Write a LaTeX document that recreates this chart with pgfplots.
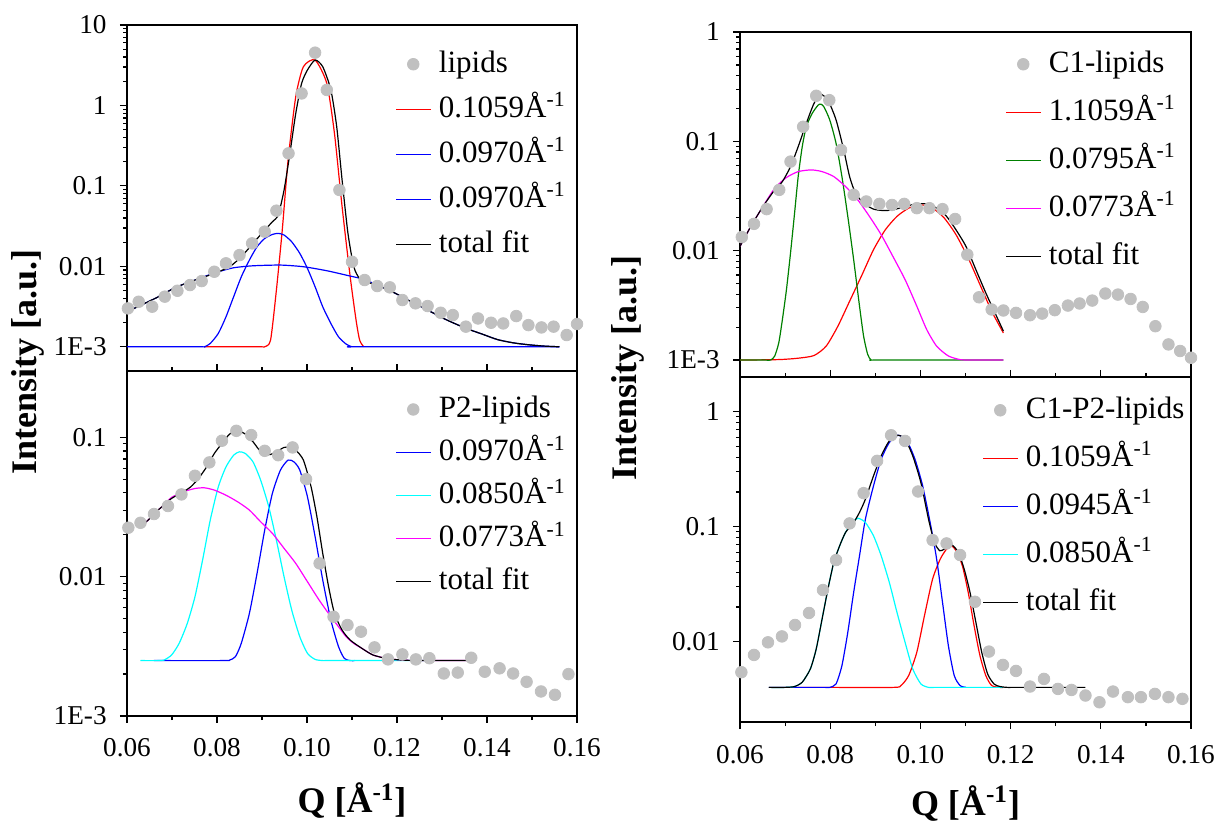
\documentclass[border=0pt]{standalone}
\usepackage{fontspec}
\setmainfont{Liberation Serif}
\usepackage{pgfplots}
\pgfplotsset{compat=1.18}
\definecolor{ptgray}{RGB}{192,192,192}
\definecolor{fitgreen}{RGB}{0,128,0}
\definecolor{fitred}{RGB}{255,0,0}
\definecolor{fitblue}{RGB}{0,0,255}
\definecolor{fitcyan}{RGB}{0,255,255}
\definecolor{fitmag}{RGB}{255,0,255}
\pgfplotsset{
  every axis/.append style={
    scale only axis,
    xmin=0.06, xmax=0.16,
    tick align=outside,
    ytick pos=left,
    axis line style={line width=0.6pt},
    major tick length=3.5pt, minor tick length=2pt,
    tick style={black, line width=0.6pt},
    tick label style={font=\fontsize{13.6}{15}\selectfont},
    yticklabel style={anchor=east, inner sep=0pt, xshift=-6.5pt},
    xticklabel style={anchor=base, inner sep=0pt, yshift=-17pt},
    legend cell align=left,
    legend style={draw=none, fill=none, inner sep=0pt,
      font=\fontsize{15.5}{17}\selectfont,
      nodes={text height=12pt, text depth=4pt, inner sep=0pt},
      anchor=north west, column sep=4pt},
    ylabel style={font=\fontsize{18}{20}\selectfont\bfseries, anchor=center},
    xlabel style={font=\fontsize{18}{20}\selectfont\bfseries, anchor=base},
  },
  datapts/.style={only marks, mark=*, mark size=2.9pt, color=ptgray,
    mark options={fill=ptgray, draw=ptgray}},
  fitline/.style={smooth, tension=0.4, line width=0.6pt, mark=none},
}
\begin{document}
\begin{tikzpicture}
\useasboundingbox (0pt,0pt) rectangle (610pt,-411.5pt);
% ---------------- left top: lipids
\begin{axis}[ymode=log, xtick=\empty, at={(63.5pt,-185.5pt)}, anchor=south west,
  width=225pt, height=173pt, ymin=5e-4, ymax=10,
  ytick={1e-3,1e-2,1e-1,1,10}, yticklabels={1E-3,0.01,0.1,1,10},
  legend style={at={(axis description cs:0.596,0.934)}, row sep=6.5pt}]
\addplot[datapts] coordinates {(0.0602,0.0030)(0.0626,0.00363)(0.0656,0.00315)(0.0684,0.0042)(0.0712,0.00497)(0.0740,0.00585)(0.0766,0.00656)(0.0794,0.00857)(0.0820,0.0109)(0.0850,0.0138)(0.0878,0.0193)(0.0906,0.027)(0.0932,0.0492)(0.0959,0.254)(0.0988,1.41)(0.1018,4.53)(0.1044,1.56)(0.1072,0.089)(0.1100,0.0114)(0.1128,0.00676)(0.1156,0.00569)(0.1184,0.00548)(0.1212,0.00381)(0.1241,0.00347)(0.1268,0.00321)(0.1297,0.00265)(0.1324,0.00248)(0.1353,0.00178)(0.1380,0.00225)(0.1409,0.00199)(0.1436,0.00195)(0.1465,0.00241)(0.1492,0.00186)(0.1521,0.00174)(0.1548,0.00178)(0.1577,0.0014)(0.1600,0.00192)};
\addlegendentry{lipids}
\addplot[fitline, fitred] coordinates {(0.0772,0.001)(0.0895,0.001)(0.0906,0.001)(0.0919,0.00121)(0.0932,0.00507)(0.0945,0.0282)(0.0958,0.2095)(0.0975,1.285)(0.0992,3.03)(0.1018,3.67)(0.1044,1.88)(0.1061,0.450)(0.1078,0.0551)(0.1096,0.00741)(0.1109,0.00215)(0.1117,0.00121)(0.1126,0.001)};
\addlegendentry{0.1059Å\textsuperscript{-1}}
\addplot[fitline, fitblue] coordinates {(0.0600,0.001)(0.0760,0.001)(0.0772,0.001)(0.0785,0.0011)(0.0803,0.00147)(0.0820,0.00236)(0.0837,0.00419)(0.0854,0.00741)(0.0872,0.01197)(0.0889,0.01754)(0.0906,0.0222)(0.0923,0.0249)(0.0936,0.0257)(0.0949,0.0245)(0.0966,0.0202)(0.0984,0.0145)(0.1001,0.00942)(0.1018,0.00557)(0.1035,0.00314)(0.1053,0.00195)(0.1070,0.00133)(0.1087,0.00108)(0.1100,0.001)(0.1115,0.001)(0.1561,0.001)};
\addlegendentry{0.0970Å\textsuperscript{-1}}
\addplot[fitline, fitblue] coordinates {(0.0600,0.00272)(0.0665,0.00406)(0.0708,0.00547)(0.0751,0.00675)(0.0785,0.00794)(0.0803,0.00857)(0.0837,0.00960)(0.0880,0.01016)(0.0941,0.01037)(0.0992,0.00989)(0.1044,0.00882)(0.1096,0.00757)(0.1126,0.00688)(0.1182,0.00507)(0.1225,0.00380)(0.1268,0.00286)(0.1311,0.00215)(0.1354,0.00169)(0.1389,0.00144)(0.1423,0.00123)(0.1458,0.00112)(0.1492,0.00106)(0.1527,0.00102)(0.1561,0.001)};
\addlegendentry{0.0970Å\textsuperscript{-1}}
\addplot[fitline, black] coordinates {(0.0600,0.00272)(0.0665,0.00406)(0.0708,0.00547)(0.0751,0.00675)(0.0794,0.00816)(0.0828,0.00989)(0.0854,0.01316)(0.0880,0.0193)(0.0906,0.0282)(0.0923,0.0358)(0.0936,0.0434)(0.0949,0.0887)(0.0962,0.2535)(0.0975,0.797)(0.0988,1.88)(0.1001,2.76)(0.1018,3.67)(0.1035,3.03)(0.1053,1.56)(0.1066,0.545)(0.1078,0.118)(0.1091,0.0257)(0.1104,0.00989)(0.1117,0.00707)(0.1139,0.00625)(0.1182,0.00507)(0.1225,0.00380)(0.1268,0.00286)(0.1311,0.00215)(0.1354,0.00169)(0.1389,0.00144)(0.1423,0.00123)(0.1458,0.00112)(0.1492,0.00106)(0.1527,0.00102)(0.1561,0.001)};
\addlegendentry{total fit}
\end{axis}
% ---------------- left bottom: P2-lipids
\begin{axis}[ymode=log, at={(63.5pt,-358pt)}, anchor=south west,
  xtick={0.06,0.08,0.10,0.12,0.14,0.16},
  minor xtick={0.07,0.09,0.11,0.13,0.15},
  xtick pos=both, xticklabel pos=bottom,
  xticklabels={0.06,0.08,0.10,0.12,0.14,0.16},
  xlabel={Q [Å\textsuperscript{-1}]},
  width=225pt, height=172.5pt, ymin=1e-3, ymax=0.3,
  ytick={1e-3,1e-2,1e-1}, yticklabels={1E-3,0.01,0.1},
  ylabel={Intensity [a.u.]},
  ylabel style={at={(axis description cs:-0.22,1.026)}},
  xlabel style={at={(axis description cs:0.5,-0.281)}},
  legend style={at={(axis description cs:0.596,0.936)}, row sep=5.5pt}]
\addplot[datapts] coordinates {(0.0603,0.0225)(0.0630,0.0244)(0.0660,0.0282)(0.0691,0.0322)(0.0721,0.039)(0.0751,0.0531)(0.0783,0.0662)(0.0811,0.0947)(0.0843,0.1116)(0.0876,0.104)(0.0906,0.0802)(0.0936,0.0746)(0.0968,0.0848)(0.0998,0.0502)(0.1028,0.01247)(0.1059,0.00516)(0.1090,0.0045)(0.1120,0.00403)(0.1150,0.00311)(0.1180,0.00255)(0.1212,0.00277)(0.1242,0.00255)(0.1272,0.0026)(0.1304,0.00202)(0.1335,0.00205)(0.1365,0.00262)(0.1395,0.00208)(0.1428,0.0022)(0.1458,0.00202)(0.1488,0.00176)(0.1520,0.0015)(0.1551,0.00142)(0.1581,0.0020)};
\addlegendentry{P2-lipids}
\addplot[fitline, fitblue] coordinates {(0.0660,0.0025)(0.0815,0.0025)(0.0828,0.00252)(0.0841,0.00267)(0.0854,0.00333)(0.0872,0.00546)(0.0889,0.01057)(0.0906,0.0216)(0.0923,0.0396)(0.0941,0.0583)(0.0958,0.0688)(0.0971,0.0668)(0.0984,0.0583)(0.1001,0.0375)(0.1018,0.0194)(0.1035,0.00946)(0.1053,0.00489)(0.1070,0.00315)(0.1083,0.00259)(0.1096,0.0025)(0.1106,0.0025)};
\addlegendentry{0.0970Å\textsuperscript{-1}}
\addplot[fitline, fitcyan] coordinates {(0.0630,0.0025)(0.0670,0.0025)(0.0682,0.00252)(0.0699,0.00274)(0.0716,0.00333)(0.0734,0.00463)(0.0751,0.00718)(0.0768,0.01318)(0.0785,0.0255)(0.0803,0.0443)(0.0820,0.0615)(0.0837,0.0746)(0.0850,0.0789)(0.0863,0.0767)(0.0880,0.0668)(0.0897,0.0494)(0.0915,0.0318)(0.0932,0.0183)(0.0949,0.0100)(0.0966,0.00577)(0.0984,0.00371)(0.1001,0.00282)(0.1018,0.00255)(0.1035,0.0025)(0.1050,0.0025)(0.1281,0.0025)};
\addlegendentry{0.0850Å\textsuperscript{-1}}
\addplot[fitline, fitmag] coordinates {(0.0630,0.0229)(0.0647,0.0255)(0.0665,0.0293)(0.0682,0.0327)(0.0699,0.0371)(0.0725,0.0407)(0.0751,0.0430)(0.0772,0.0435)(0.0794,0.0419)(0.0820,0.0385)(0.0846,0.0345)(0.0872,0.0301)(0.0897,0.0248)(0.0923,0.0205)(0.0949,0.0160)(0.0975,0.01246)(0.1001,0.00921)(0.1027,0.00680)(0.1053,0.00517)(0.1070,0.00438)(0.1087,0.00371)(0.1104,0.00332)(0.1122,0.00306)(0.1147,0.00274)(0.1182,0.00257)(0.1225,0.00251)(0.1250,0.0025)(0.1367,0.0025)};
\addlegendentry{0.0773Å\textsuperscript{-1}}
\addplot[fitline, black] coordinates {(0.0630,0.0229)(0.0647,0.0255)(0.0665,0.0293)(0.0682,0.0327)(0.0699,0.0365)(0.0725,0.0407)(0.0742,0.0443)(0.0759,0.0508)(0.0777,0.0615)(0.0794,0.0767)(0.0811,0.0906)(0.0828,0.1057)(0.0846,0.1117)(0.0863,0.1057)(0.0880,0.0931)(0.0893,0.0820)(0.0906,0.0755)(0.0919,0.0755)(0.0932,0.0789)(0.0949,0.0848)(0.0962,0.0848)(0.0975,0.0811)(0.0992,0.0688)(0.1009,0.0443)(0.1022,0.0270)(0.1035,0.01470)(0.1048,0.00848)(0.1061,0.00546)(0.1078,0.00414)(0.1096,0.00351)(0.1122,0.00306)(0.1147,0.00274)(0.1182,0.00257)(0.1225,0.00251)(0.1268,0.0025)(0.1367,0.0025)};
\addlegendentry{total fit}
\end{axis}
% ---------------- right top: C1-lipids
\begin{axis}[ymode=log, xtick=\empty, at={(370pt,-188.5pt)}, anchor=south west,
  width=225.5pt, height=172.5pt, ymin=7e-4, ymax=1,
  ytick={1e-3,1e-2,1e-1,1}, yticklabels={1E-3,0.01,0.1,1},
  legend style={at={(axis description cs:0.588,0.954)}, row sep=8pt}]
\addplot[datapts] coordinates {(0.0604,0.01333)(0.0631,0.0176)(0.0659,0.024)(0.0687,0.036)(0.0712,0.0653)(0.0740,0.136)(0.0769,0.261)(0.0798,0.238)(0.0824,0.0834)(0.0852,0.0324)(0.0880,0.0282)(0.0909,0.0268)(0.0937,0.0262)(0.0964,0.0268)(0.0992,0.0245)(0.1020,0.0245)(0.1049,0.024)(0.1077,0.0195)(0.1104,0.0092)(0.1130,0.00375)(0.1158,0.0029)(0.1184,0.00284)(0.1212,0.0027)(0.1243,0.00257)(0.1270,0.00266)(0.1298,0.00286)(0.1327,0.00315)(0.1353,0.00329)(0.1381,0.0035)(0.1410,0.00406)(0.1438,0.00397)(0.1466,0.00362)(0.1493,0.00306)(0.1521,0.00204)(0.1550,0.00139)(0.1576,0.00121)(0.1600,0.00105)};
\addlegendentry{C1-lipids}
\addplot[fitline, fitred] coordinates {(0.0600,0.001)(0.0686,0.00101)(0.0729,0.00104)(0.0764,0.0011)(0.0791,0.00134)(0.0817,0.00204)(0.0843,0.00345)(0.0869,0.00583)(0.0896,0.01021)(0.0922,0.0155)(0.0948,0.0206)(0.0974,0.0245)(0.1001,0.0263)(0.1027,0.0245)(0.1053,0.01986)(0.1079,0.0140)(0.1106,0.00857)(0.1132,0.00490)(0.1158,0.00280)(0.1184,0.00177)};
\addlegendentry{1.1059Å\textsuperscript{-1}}
\addplot[fitline, fitgreen] coordinates {(0.0600,0.001)(0.0655,0.001)(0.0668,0.001)(0.0677,0.00109)(0.0686,0.00144)(0.0694,0.00235)(0.0703,0.00441)(0.0712,0.00952)(0.0721,0.0221)(0.0729,0.0476)(0.0738,0.0894)(0.0747,0.136)(0.0760,0.180)(0.0773,0.214)(0.0779,0.219)(0.0786,0.207)(0.0799,0.157)(0.0813,0.0959)(0.0826,0.0476)(0.0839,0.0206)(0.0852,0.00828)(0.0865,0.00311)(0.0874,0.00166)(0.0883,0.00113)(0.0891,0.001)(0.0905,0.001)(0.1184,0.001)};
\addlegendentry{0.0795Å\textsuperscript{-1}}
\addplot[fitline, fitmag] coordinates {(0.0600,0.01096)(0.0624,0.01668)(0.0651,0.0254)(0.0677,0.0373)(0.0703,0.0467)(0.0729,0.0529)(0.0758,0.0548)(0.0782,0.0529)(0.0808,0.0476)(0.0834,0.0386)(0.0861,0.0292)(0.0887,0.0206)(0.0913,0.0140)(0.0939,0.00887)(0.0966,0.00544)(0.0992,0.00311)(0.1014,0.00190)(0.1036,0.00134)(0.1062,0.00109)(0.1088,0.00101)(0.1114,0.001)(0.1184,0.001)};
\addlegendentry{0.0773Å\textsuperscript{-1}}
\addplot[fitline, black] coordinates {(0.0600,0.01096)(0.0624,0.01668)(0.0651,0.0254)(0.0677,0.0360)(0.0694,0.0429)(0.0712,0.0587)(0.0729,0.0894)(0.0747,0.146)(0.0764,0.222)(0.0779,0.268)(0.0795,0.238)(0.0813,0.157)(0.0830,0.0834)(0.0843,0.0476)(0.0856,0.0336)(0.0874,0.0272)(0.0896,0.0240)(0.0918,0.0233)(0.0939,0.0236)(0.0966,0.0254)(0.0992,0.0268)(0.1014,0.0268)(0.1036,0.0245)(0.1058,0.0206)(0.1079,0.0155)(0.1101,0.01096)(0.1123,0.00671)(0.1145,0.00411)(0.1167,0.00261)(0.1184,0.00184)};
\addlegendentry{total fit}
\end{axis}
% ---------------- right bottom: C1-P2-lipids
\begin{axis}[ymode=log, at={(370pt,-361pt)}, anchor=south west,
  xtick={0.06,0.08,0.10,0.12,0.14,0.16},
  minor xtick={0.07,0.09,0.11,0.13,0.15},
  xtick pos=both, xticklabel pos=bottom,
  xticklabels={0.06,0.08,0.10,0.12,0.14,0.16},
  xlabel={Q [Å\textsuperscript{-1}]},
  width=225.5pt, height=172.5pt, ymin=2e-3, ymax=2,
  ytick={1e-2,1e-1,1}, yticklabels={0.01,0.1,1},
  ylabel={Intensity [a.u.]},
  ylabel style={at={(axis description cs:-0.248,1.026)}},
  xlabel style={at={(axis description cs:0.5,-0.270)}},
  legend style={at={(axis description cs:0.537,0.951)}, row sep=8pt}]
\addplot[datapts] coordinates {(0.0603,0.00542)(0.0631,0.00766)(0.0662,0.00986)(0.0693,0.0111)(0.0722,0.01395)(0.0753,0.01774)(0.0784,0.0281)(0.0813,0.0512)(0.0843,0.1066)(0.0874,0.1955)(0.0904,0.373)(0.0935,0.623)(0.0966,0.556)(0.0995,0.202)(0.1027,0.0763)(0.1058,0.0714)(0.1088,0.0566)(0.1121,0.0222)(0.1152,0.00819)(0.1183,0.00627)(0.1212,0.00556)(0.1243,0.00407)(0.1274,0.00474)(0.1305,0.00388)(0.1335,0.0038)(0.1366,0.0034)(0.1397,0.00297)(0.1427,0.00368)(0.1460,0.00329)(0.1489,0.00329)(0.1520,0.00351)(0.1550,0.00329)(0.1581,0.00318)};
\addlegendentry{C1-P2-lipids}
\addplot[fitline, fitred] coordinates {(0.0664,0.004)(0.0799,0.004)(0.0940,0.004)(0.0957,0.00415)(0.0974,0.00507)(0.0992,0.00808)(0.1009,0.01682)(0.1027,0.0350)(0.1044,0.0522)(0.1058,0.0638)(0.1069,0.0682)(0.1079,0.0617)(0.1093,0.0457)(0.1106,0.0268)(0.1119,0.01377)(0.1132,0.00756)(0.1145,0.00507)(0.1158,0.00415)(0.1176,0.004)(0.1184,0.004)};
\addlegendentry{0.1059Å\textsuperscript{-1}}
\addplot[fitline, fitblue] coordinates {(0.0664,0.004)(0.0785,0.004)(0.0799,0.004)(0.0813,0.00429)(0.0826,0.00619)(0.0839,0.01205)(0.0852,0.0268)(0.0865,0.0558)(0.0878,0.116)(0.0896,0.226)(0.0913,0.385)(0.0931,0.538)(0.0950,0.623)(0.0970,0.556)(0.0988,0.385)(0.1005,0.226)(0.1023,0.1017)(0.1036,0.0522)(0.1049,0.0220)(0.1062,0.00923)(0.1075,0.00507)(0.1088,0.00415)(0.1101,0.004)};
\addlegendentry{0.0945Å\textsuperscript{-1}}
\addplot[fitline, fitcyan] coordinates {(0.0664,0.004)(0.0700,0.004)(0.0721,0.00407)(0.0738,0.00444)(0.0756,0.00579)(0.0769,0.00864)(0.0782,0.01573)(0.0795,0.0287)(0.0808,0.0489)(0.0821,0.0682)(0.0834,0.0890)(0.0848,0.1086)(0.0862,0.118)(0.0878,0.1086)(0.0896,0.0832)(0.0913,0.0558)(0.0931,0.0328)(0.0948,0.0180)(0.0966,0.00987)(0.0983,0.00579)(0.1001,0.00429)(0.1018,0.004)(0.1035,0.004)(0.1184,0.004)};
\addlegendentry{0.0850Å\textsuperscript{-1}}
\addplot[fitline, black] coordinates {(0.0664,0.004)(0.0700,0.004)(0.0721,0.00407)(0.0738,0.00444)(0.0756,0.00579)(0.0769,0.00864)(0.0782,0.01573)(0.0795,0.0287)(0.0808,0.0489)(0.0821,0.0682)(0.0834,0.0890)(0.0852,0.1086)(0.0865,0.133)(0.0878,0.173)(0.0896,0.276)(0.0913,0.412)(0.0931,0.556)(0.0950,0.623)(0.0966,0.575)(0.0983,0.412)(0.1001,0.242)(0.1018,0.116)(0.1031,0.0729)(0.1043,0.0617)(0.1053,0.0638)(0.1069,0.0695)(0.1084,0.0597)(0.1097,0.0428)(0.1110,0.0268)(0.1123,0.01472)(0.1136,0.00808)(0.1149,0.00524)(0.1163,0.00429)(0.1176,0.00407)(0.1193,0.004)(0.1210,0.004)(0.1366,0.004)};
\addlegendentry{total fit}
\end{axis}
\end{tikzpicture}
\end{document}
